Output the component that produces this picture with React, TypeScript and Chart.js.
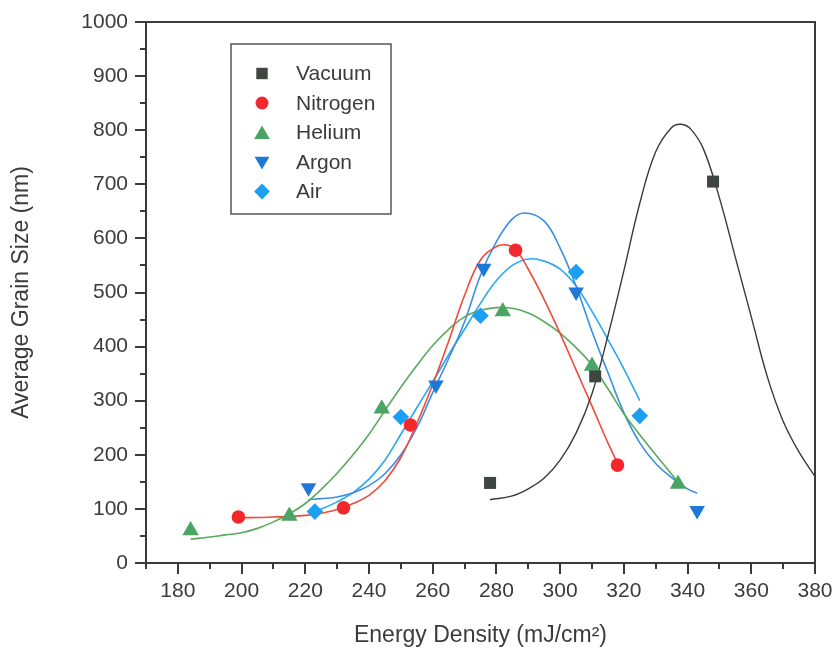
import React, { useEffect, useRef } from "react";
import { Chart, registerables } from "chart.js";
import { drawPoint } from "chart.js/helpers";

Chart.register(...registerables);

// ---------- data ----------
const seriesNames = ["Vacuum", "Nitrogen", "Helium", "Argon", "Air"];

const vacuumX = [278, 311, 348];
const vacuumY = [148, 345, 705];
const nitrogenX = [199, 232, 253, 286, 318];
const nitrogenY = [85, 102, 255, 578, 181];
const heliumX = [184, 215, 244, 282, 310, 337];
const heliumY = [60, 87, 285, 465, 364, 146];
const argonX = [221, 261, 276, 305, 343];
const argonY = [139, 329, 545, 501, 97];
const airX = [223, 250, 275, 305, 325];
const airY = [95, 270, 457, 538, 272];

// fitted curves
const vacuumFitX = [278, 285, 290, 295, 300, 305, 310, 315, 320, 325, 330, 335, 338, 341, 345, 350, 355, 360, 365, 370, 375, 380];
const vacuumFitY = [117, 124, 137, 157, 190, 240, 313, 420, 540, 665, 760, 805, 811, 802, 765, 675, 565, 455, 345, 262, 205, 160];
const nitrogenFitX = [199, 205, 210, 215, 220, 225, 230, 235, 240, 245, 250, 255, 260, 265, 270, 275, 280, 283, 286, 290, 295, 300, 305, 310, 315, 318];
const nitrogenFitY = [84, 84, 85, 86, 88, 92, 99, 110, 125, 152, 195, 258, 330, 410, 495, 560, 585, 588, 580, 543, 487, 424, 357, 290, 222, 185];
const heliumFitX = [184, 190, 195, 200, 205, 210, 215, 220, 225, 230, 235, 240, 245, 250, 255, 260, 265, 270, 275, 280, 285, 290, 295, 300, 305, 310, 315, 320, 325, 330, 335, 338];
const heliumFitY = [44, 48, 52, 56, 64, 76, 91, 110, 136, 166, 200, 238, 282, 325, 365, 402, 432, 455, 467, 472, 471, 462, 446, 425, 398, 366, 322, 276, 237, 200, 164, 141];
const argonFitX = [221, 225, 230, 235, 240, 245, 250, 255, 260, 265, 270, 275, 280, 285, 289, 295, 300, 305, 310, 315, 320, 325, 330, 335, 340, 343];
const argonFitY = [117, 119, 122, 130, 143, 165, 200, 250, 315, 378, 446, 532, 594, 636, 647, 632, 582, 512, 428, 352, 278, 222, 184, 158, 137, 129];
const airFitX = [223, 225, 230, 235, 240, 245, 250, 255, 260, 265, 270, 275, 280, 285, 290, 295, 300, 305, 310, 315, 320, 325];
const airFitY = [98, 100, 113, 130, 155, 190, 238, 287, 335, 385, 432, 480, 522, 550, 562, 558, 543, 512, 465, 413, 359, 300];

const xTickValues = [180, 200, 220, 240, 260, 280, 300, 320, 340, 360, 380];
const yTickValues = [0, 100, 200, 300, 400, 500, 600, 700, 800, 900, 1000];

// ---------- styles ----------
const FONT = "'Liberation Sans', Arial, Helvetica, sans-serif";
const TEXT = "#3b3b3b";
const AXIS = "#3a3a3a";

const markerColors = ["#3f4641", "#f2282c", "#4aa564", "#1f78d6", "#1a9ff2"];
const lineColors = ["#3a3a3a", "#f04a3a", "#58ab5c", "#3a8ee6", "#2aa8f4"];
const pointStyles = ["rect", "circle", "triangle", "triangle", "rectRot"];
const pointRotations = [0, 0, 0, 180, 0];
const pointRadii = [8.5, 6.8, 9.5, 9, 8.3];

const zip = (xs: number[], ys: number[]) => xs.map((x, i) => ({ x, y: ys[i] }));

const pointSets = [
  zip(vacuumX, vacuumY),
  zip(nitrogenX, nitrogenY),
  zip(heliumX, heliumY),
  zip(argonX, argonY),
  zip(airX, airY),
];
const fitSets = [
  zip(vacuumFitX, vacuumFitY),
  zip(nitrogenFitX, nitrogenFitY),
  zip(heliumFitX, heliumFitY),
  zip(argonFitX, argonFitY),
  zip(airFitX, airFitY),
];

const framePlugin = {
  id: "frameAndTicks",
  afterDraw(chart: any) {
    const { ctx, chartArea: a } = chart;
    const xs = chart.scales.x;
    const ys = chart.scales.y;
    ctx.save();
    ctx.strokeStyle = AXIS;
    ctx.lineWidth = 2;
    ctx.strokeRect(a.left, a.top, a.right - a.left, a.bottom - a.top);
    ctx.beginPath();
    for (let v = xs.min; v <= xs.max + 0.001; v += 10) {
      const px = Math.round(xs.getPixelForValue(v));
      const len = xTickValues.includes(v) ? 11 : 6;
      ctx.moveTo(px, a.bottom);
      ctx.lineTo(px, a.bottom + len);
    }
    for (let v = ys.min; v <= ys.max + 0.001; v += 50) {
      const py = Math.round(ys.getPixelForValue(v));
      const len = yTickValues.includes(v) ? 11 : 6;
      ctx.moveTo(a.left, py);
      ctx.lineTo(a.left - len, py);
    }
    ctx.stroke();
    ctx.restore();
  },
};

const legendPlugin = {
  id: "boxLegend",
  afterDraw(chart: any) {
    const { ctx, chartArea: a } = chart;
    const bx = a.left + 85;
    const by = a.top + 22;
    const bw = 160;
    const bh = 170;
    ctx.save();
    ctx.fillStyle = "#ffffff";
    ctx.fillRect(bx, by, bw, bh);
    ctx.strokeStyle = "#555555";
    ctx.lineWidth = 1.5;
    ctx.strokeRect(bx, by, bw, bh);
    ctx.font = `21px ${FONT}`;
    ctx.textBaseline = "middle";
    ctx.textAlign = "left";
    seriesNames.forEach((name, i) => {
      const cy = by + 29.5 + i * 29.5;
      ctx.fillStyle = markerColors[i];
      ctx.strokeStyle = markerColors[i];
      drawPoint(ctx, {
        pointStyle: pointStyles[i],
        rotation: pointRotations[i],
        radius: pointRadii[i] * 0.95,
        borderWidth: 0,
      } as any, bx + 31, cy + (pointStyles[i] === "triangle" ? (pointRotations[i] ? -1 : 2) : 0));
      ctx.fillStyle = TEXT;
      ctx.fillText(name, bx + 65, cy + 1);
    });
    ctx.restore();
  },
};

export default function App() {
  const ref = useRef<HTMLCanvasElement | null>(null);

  useEffect(() => {
    document.body.style.margin = "0";
    const canvas = ref.current;
    if (!canvas) return;

    const datasets: any[] = [];
    seriesNames.forEach((name, i) => {
      datasets.push({
        label: name + " fit",
        data: fitSets[i],
        showLine: true,
        borderColor: lineColors[i],
        borderWidth: i === 0 ? 1.4 : 1.6,
        pointRadius: 0,
        tension: 0.4,
        fill: false,
        order: 2,
      });
    });
    seriesNames.forEach((name, i) => {
      datasets.push({
        label: name,
        data: pointSets[i],
        showLine: false,
        backgroundColor: markerColors[i],
        borderColor: markerColors[i],
        borderWidth: 0,
        pointStyle: pointStyles[i],
        pointRotation: pointRotations[i],
        pointRadius: pointRadii[i],
        order: 1,
      });
    });

    const chart = new Chart(canvas, {
      type: "scatter",
      data: { datasets },
      options: {
        animation: false,
        responsive: false,
        devicePixelRatio: 1,
        layout: { padding: { left: 0, right: 20, top: 22, bottom: 0 } },
        plugins: {
          legend: { display: false },
          tooltip: { enabled: false },
        },
        scales: {
          x: {
            type: "linear",
            min: 170,
            max: 380,
            afterBuildTicks: (s: any) => {
              s.ticks = xTickValues.map((v) => ({ value: v }));
            },
            afterFit: (s: any) => {
              s.height = 89;
            },
            grid: { display: false, drawTicks: true, tickLength: 16 },
            border: { display: false },
            ticks: {
              padding: 0,
              color: TEXT,
              font: { family: FONT, size: 21 },
              maxRotation: 0,
              autoSkip: false,
              callback: (v: any) => String(v),
            },
            title: {
              display: true,
              text: "Energy Density (mJ/cm²)",
              color: TEXT,
              font: { family: FONT, size: 23 },
              padding: { top: 0, bottom: 3 },
            },
          },
          y: {
            type: "linear",
            min: 0,
            max: 1000,
            afterBuildTicks: (s: any) => {
              s.ticks = yTickValues.map((v) => ({ value: v }));
            },
            afterFit: (s: any) => {
              s.width = 146;
            },
            grid: { display: false, drawTicks: true, tickLength: 18 },
            border: { display: false },
            ticks: {
              padding: 0,
              color: TEXT,
              font: { family: FONT, size: 21 },
              autoSkip: false,
              callback: (v: any) => String(v),
            },
            title: {
              display: true,
              text: "Average Grain Size (nm)",
              color: TEXT,
              font: { family: FONT, size: 23 },
              padding: { top: 8, bottom: 0 },
            },
          },
        },
      },
      plugins: [framePlugin, legendPlugin],
    } as any);

    return () => chart.destroy();
  }, []);

  return (
    <div style={{ width: 835, height: 652 }}>
      <canvas ref={ref} width={835} height={652} style={{ display: "block" }} />
    </div>
  );
}
